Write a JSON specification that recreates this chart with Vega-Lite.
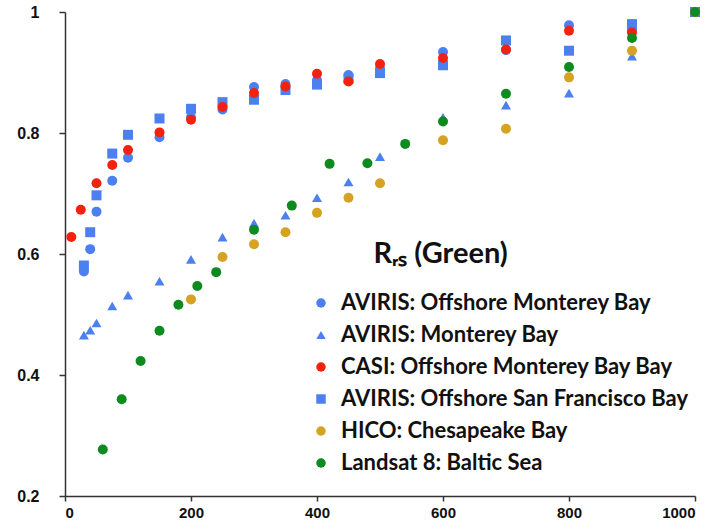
{
  "$schema": "https://vega.github.io/schema/vega-lite/v6.json",
  "width": 630,
  "height": 484,
  "autosize": {"type": "none"},
  "padding": {"left": 65, "top": 12, "right": 19, "bottom": 34},
  "background": "white",
  "data": {
    "values": [
      {"s": "AVIRIS: Offshore Monterey Bay", "x": 30, "y": 0.571},
      {"s": "AVIRIS: Offshore Monterey Bay", "x": 40, "y": 0.608},
      {"s": "AVIRIS: Offshore Monterey Bay", "x": 50, "y": 0.670},
      {"s": "AVIRIS: Offshore Monterey Bay", "x": 75, "y": 0.721},
      {"s": "AVIRIS: Offshore Monterey Bay", "x": 100, "y": 0.759},
      {"s": "AVIRIS: Offshore Monterey Bay", "x": 150, "y": 0.793},
      {"s": "AVIRIS: Offshore Monterey Bay", "x": 200, "y": 0.826},
      {"s": "AVIRIS: Offshore Monterey Bay", "x": 250, "y": 0.839},
      {"s": "AVIRIS: Offshore Monterey Bay", "x": 300, "y": 0.876},
      {"s": "AVIRIS: Offshore Monterey Bay", "x": 350, "y": 0.881},
      {"s": "AVIRIS: Offshore Monterey Bay", "x": 400, "y": 0.887},
      {"s": "AVIRIS: Offshore Monterey Bay", "x": 450, "y": 0.896},
      {"s": "AVIRIS: Offshore Monterey Bay", "x": 500, "y": 0.907},
      {"s": "AVIRIS: Offshore Monterey Bay", "x": 600, "y": 0.934},
      {"s": "AVIRIS: Offshore Monterey Bay", "x": 700, "y": 0.937},
      {"s": "AVIRIS: Offshore Monterey Bay", "x": 800, "y": 0.978},
      {"s": "AVIRIS: Offshore Monterey Bay", "x": 900, "y": 0.970},
      {"s": "AVIRIS: Offshore Monterey Bay", "x": 1000, "y": 1.0},
      {"s": "AVIRIS: Monterey Bay", "x": 30, "y": 0.466},
      {"s": "AVIRIS: Monterey Bay", "x": 40, "y": 0.474},
      {"s": "AVIRIS: Monterey Bay", "x": 50, "y": 0.486},
      {"s": "AVIRIS: Monterey Bay", "x": 75, "y": 0.514},
      {"s": "AVIRIS: Monterey Bay", "x": 100, "y": 0.532},
      {"s": "AVIRIS: Monterey Bay", "x": 150, "y": 0.555},
      {"s": "AVIRIS: Monterey Bay", "x": 200, "y": 0.591},
      {"s": "AVIRIS: Monterey Bay", "x": 250, "y": 0.628},
      {"s": "AVIRIS: Monterey Bay", "x": 300, "y": 0.651},
      {"s": "AVIRIS: Monterey Bay", "x": 350, "y": 0.664},
      {"s": "AVIRIS: Monterey Bay", "x": 400, "y": 0.693},
      {"s": "AVIRIS: Monterey Bay", "x": 450, "y": 0.719},
      {"s": "AVIRIS: Monterey Bay", "x": 500, "y": 0.761},
      {"s": "AVIRIS: Monterey Bay", "x": 600, "y": 0.826},
      {"s": "AVIRIS: Monterey Bay", "x": 700, "y": 0.846},
      {"s": "AVIRIS: Monterey Bay", "x": 800, "y": 0.866},
      {"s": "AVIRIS: Monterey Bay", "x": 900, "y": 0.927},
      {"s": "AVIRIS: Monterey Bay", "x": 1000, "y": 1.0},
      {"s": "AVIRIS: Offshore San Francisco Bay", "x": 30, "y": 0.581},
      {"s": "AVIRIS: Offshore San Francisco Bay", "x": 40, "y": 0.636},
      {"s": "AVIRIS: Offshore San Francisco Bay", "x": 50, "y": 0.697},
      {"s": "AVIRIS: Offshore San Francisco Bay", "x": 75, "y": 0.766},
      {"s": "AVIRIS: Offshore San Francisco Bay", "x": 100, "y": 0.797},
      {"s": "AVIRIS: Offshore San Francisco Bay", "x": 150, "y": 0.824},
      {"s": "AVIRIS: Offshore San Francisco Bay", "x": 200, "y": 0.840},
      {"s": "AVIRIS: Offshore San Francisco Bay", "x": 250, "y": 0.851},
      {"s": "AVIRIS: Offshore San Francisco Bay", "x": 300, "y": 0.855},
      {"s": "AVIRIS: Offshore San Francisco Bay", "x": 350, "y": 0.871},
      {"s": "AVIRIS: Offshore San Francisco Bay", "x": 400, "y": 0.880},
      {"s": "AVIRIS: Offshore San Francisco Bay", "x": 450, "y": 0.890},
      {"s": "AVIRIS: Offshore San Francisco Bay", "x": 500, "y": 0.899},
      {"s": "AVIRIS: Offshore San Francisco Bay", "x": 600, "y": 0.912},
      {"s": "AVIRIS: Offshore San Francisco Bay", "x": 700, "y": 0.953},
      {"s": "AVIRIS: Offshore San Francisco Bay", "x": 800, "y": 0.936},
      {"s": "AVIRIS: Offshore San Francisco Bay", "x": 900, "y": 0.980},
      {"s": "AVIRIS: Offshore San Francisco Bay", "x": 1000, "y": 1.0},
      {"s": "CASI: Offshore Monterey Bay Bay", "x": 10, "y": 0.628},
      {"s": "CASI: Offshore Monterey Bay Bay", "x": 25, "y": 0.673},
      {"s": "CASI: Offshore Monterey Bay Bay", "x": 50, "y": 0.717},
      {"s": "CASI: Offshore Monterey Bay Bay", "x": 75, "y": 0.747},
      {"s": "CASI: Offshore Monterey Bay Bay", "x": 100, "y": 0.772},
      {"s": "CASI: Offshore Monterey Bay Bay", "x": 150, "y": 0.801},
      {"s": "CASI: Offshore Monterey Bay Bay", "x": 200, "y": 0.822},
      {"s": "CASI: Offshore Monterey Bay Bay", "x": 250, "y": 0.843},
      {"s": "CASI: Offshore Monterey Bay Bay", "x": 300, "y": 0.866},
      {"s": "CASI: Offshore Monterey Bay Bay", "x": 350, "y": 0.877},
      {"s": "CASI: Offshore Monterey Bay Bay", "x": 400, "y": 0.898},
      {"s": "CASI: Offshore Monterey Bay Bay", "x": 450, "y": 0.885},
      {"s": "CASI: Offshore Monterey Bay Bay", "x": 500, "y": 0.914},
      {"s": "CASI: Offshore Monterey Bay Bay", "x": 600, "y": 0.924},
      {"s": "CASI: Offshore Monterey Bay Bay", "x": 700, "y": 0.938},
      {"s": "CASI: Offshore Monterey Bay Bay", "x": 800, "y": 0.969},
      {"s": "CASI: Offshore Monterey Bay Bay", "x": 900, "y": 0.966},
      {"s": "CASI: Offshore Monterey Bay Bay", "x": 1000, "y": 1.0},
      {"s": "HICO: Chesapeake Bay", "x": 200, "y": 0.525},
      {"s": "HICO: Chesapeake Bay", "x": 250, "y": 0.595},
      {"s": "HICO: Chesapeake Bay", "x": 300, "y": 0.616},
      {"s": "HICO: Chesapeake Bay", "x": 350, "y": 0.636},
      {"s": "HICO: Chesapeake Bay", "x": 400, "y": 0.668},
      {"s": "HICO: Chesapeake Bay", "x": 450, "y": 0.693},
      {"s": "HICO: Chesapeake Bay", "x": 500, "y": 0.717},
      {"s": "HICO: Chesapeake Bay", "x": 600, "y": 0.788},
      {"s": "HICO: Chesapeake Bay", "x": 700, "y": 0.807},
      {"s": "HICO: Chesapeake Bay", "x": 800, "y": 0.892},
      {"s": "HICO: Chesapeake Bay", "x": 900, "y": 0.936},
      {"s": "HICO: Chesapeake Bay", "x": 1000, "y": 1.0},
      {"s": "Landsat 8: Baltic Sea", "x": 60, "y": 0.277},
      {"s": "Landsat 8: Baltic Sea", "x": 90, "y": 0.360},
      {"s": "Landsat 8: Baltic Sea", "x": 120, "y": 0.423},
      {"s": "Landsat 8: Baltic Sea", "x": 150, "y": 0.473},
      {"s": "Landsat 8: Baltic Sea", "x": 180, "y": 0.516},
      {"s": "Landsat 8: Baltic Sea", "x": 210, "y": 0.547},
      {"s": "Landsat 8: Baltic Sea", "x": 240, "y": 0.570},
      {"s": "Landsat 8: Baltic Sea", "x": 300, "y": 0.640},
      {"s": "Landsat 8: Baltic Sea", "x": 360, "y": 0.680},
      {"s": "Landsat 8: Baltic Sea", "x": 420, "y": 0.749},
      {"s": "Landsat 8: Baltic Sea", "x": 480, "y": 0.750},
      {"s": "Landsat 8: Baltic Sea", "x": 540, "y": 0.782},
      {"s": "Landsat 8: Baltic Sea", "x": 600, "y": 0.819},
      {"s": "Landsat 8: Baltic Sea", "x": 700, "y": 0.865},
      {"s": "Landsat 8: Baltic Sea", "x": 800, "y": 0.909},
      {"s": "Landsat 8: Baltic Sea", "x": 900, "y": 0.957},
      {"s": "Landsat 8: Baltic Sea", "x": 1000, "y": 1.0}
    ]
  },
  "mark": {"type": "point", "filled": true, "opacity": 1, "size": 100},
  "encoding": {
    "x": {
      "field": "x", "type": "quantitative",
      "scale": {"domain": [0, 1000], "nice": false},
      "axis": {
        "title": null, "grid": false, "values": [0, 200, 400, 600, 800, 1000],
        "format": "d",
        "domainColor": "#333", "tickColor": "#333", "tickSize": 5,
        "labelFont": "Liberation Sans", "labelFontWeight": "bold", "labelFontSize": 15,
        "labelColor": "#111", "labelPadding": 4
      }
    },
    "y": {
      "field": "y", "type": "quantitative",
      "scale": {"domain": [0.2, 1], "nice": false, "zero": false},
      "axis": {
        "title": null, "grid": false, "values": [0.2, 0.4, 0.6, 0.8, 1],
        "format": ".1~f",
        "domainColor": "#333", "tickColor": "#333", "tickSize": 6,
        "labelFont": "Liberation Sans", "labelFontWeight": "bold", "labelFontSize": 16,
        "labelColor": "#111", "labelPadding": 20
      }
    },
    "color": {
      "field": "s", "type": "nominal",
      "scale": {
        "domain": ["AVIRIS: Offshore Monterey Bay", "AVIRIS: Monterey Bay", "CASI: Offshore Monterey Bay Bay", "AVIRIS: Offshore San Francisco Bay", "HICO: Chesapeake Bay", "Landsat 8: Baltic Sea"],
        "range": ["#4C80F0", "#4C80F0", "#F3220F", "#4C80F0", "#D5A321", "#0E8B1E"]
      },
      "legend": {
        "title": "\u200b\u00a0\u00a0\u00a0\u00a0\u00a0\u00a0\u00a0\u00a0\u00a0Rᵣₛ (Green)",
        "orient": "none", "legendX": 245, "legendY": 228,
        "titleFont": "Lato", "titleFontSize": 29, "titleFontWeight": "bold", "titleColor": "#111",
        "titlePadding": 23, "titleLimit": 500,
        "labelFont": "Lato", "labelFontSize": 22, "labelFontWeight": "bold", "labelColor": "#111",
        "labelLimit": 500, "symbolSize": 90, "rowPadding": 10, "labelOffset": 9,
        "symbolStrokeWidth": 0
      }
    },
    "shape": {
      "field": "s", "type": "nominal",
      "scale": {
        "domain": ["AVIRIS: Offshore Monterey Bay", "AVIRIS: Monterey Bay", "CASI: Offshore Monterey Bay Bay", "AVIRIS: Offshore San Francisco Bay", "HICO: Chesapeake Bay", "Landsat 8: Baltic Sea"],
        "range": ["circle", "triangle-up", "circle", "square", "circle", "circle"]
      }
    }
  },
  "config": {
    "view": {"stroke": null},
    "axis": {"domainWidth": 1.5, "tickWidth": 1.5}
  }
}
